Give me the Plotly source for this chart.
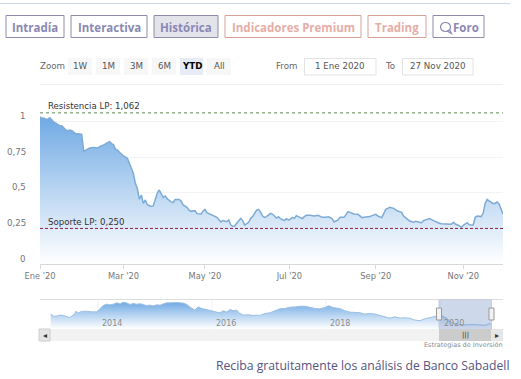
import plotly.graph_objects as go

W, H = 521, 379

sessions = [0,1,2,3,4,5,6,7,8,9,10,11,12,13,14,15,16,17,18,19,20,21,22,23,24,25,27,29,30,31,32,34,35,36,37,38,39,40,41,42,44,45,46,47,48,49,50,51,52,53,54,55,56,57,58,59,60,61,62,63,64,66,67,68,70,71,72,74,75,76,78,79,81,82,83,84,86,87,89,90,91,92,94,95,96,97,98,99,101,102,103,105,106,107,109,110,111,
 112,113,114,116,117,118,119,120,121,123,124,125,126,127,128,129,131,132,133,134,136,138,140,141,142,144,145,147,148,150,151,153,154,155,156,158,160,161,162,164,166,167,169,170,172,173,174,175,176,178,179,180,182,183,185,186,188,189,191,192,193,195,196,198,199,201,202,204,205,207,208,209,211,212,213,215,216,218,219,220,222,223,224,225,226,228,229,230,231,232,233]
prices = [1.035,1.024,1.026,1.017,1.019,1.028,1.012,.996,.989,.982,.970,.972,.958,.942,.937,.942,.937,.925,.914,.916,.914,.911,.792,.799,.808,.815,.818,.815,.825,.829,.836,.853,.860,.846,.839,.806,.801,.785,.771,.759,.743,.707,.677,.637,.567,.529,.455,.485,.426,.450,.417,.410,.405,.408,.461,.497,.520,.497,.468,.478,.459,.436,.431,.454,.454,.443,.415,.398,.379,.370,.375,.354,.351,.370,.384,.361,.351,.342,.328,.309,.295,.305,.297,.309,.274,.265,.267,.286,.321,.305,.274,.293,.321,.333,.379,.384,.365,
 .337,.328,.333,.356,.351,.337,.323,.333,.319,.305,.319,.309,.314,.328,.321,.340,.328,.319,.333,.342,.342,.337,.342,.337,.328,.328,.333,.319,.295,.309,.328,.328,.351,.368,.363,.351,.349,.335,.326,.330,.333,.340,.349,.337,.326,.356,.384,.391,.398,.391,.379,.372,.363,.337,.314,.302,.293,.300,.293,.290,.305,.314,.319,.305,.297,.286,.283,.283,.281,.279,.293,.281,.269,.258,.272,.290,.276,.274,.328,.337,.333,.356,.426,.454,.443,.426,.426,.436,.422,.384,.351]

x_tick_sessions = [0, 42, 83, 125.5, 169, 213]
x_tick_labels = ["Ene '20", "Mar '20", "May '20", "Jul '20", "Sep '20", "Nov '20"]
y_ticks = [0, 0.25, 0.5, 0.75, 1]
y_labels = ["0", "0,25", "0,5", "0,75", "1"]
resistance = 1.062
support = 0.250

nav_years = [2013.17,2013.22,2013.27,2013.33,2013.39,2013.45,2013.50,2013.54,2013.59,2013.61,2013.66,2013.71,2013.80,2013.89,2013.98,2014.04,2014.09,2014.15,2014.21,2014.27,2014.33,2014.39,2014.44,2014.50,2014.56,2014.62,2014.68,2014.74,2014.80,2014.85,2014.91,2014.97,2015.03,2015.09,2015.15,2015.20,2015.26,2015.32,2015.38,2015.44,2015.50,2015.56,2015.61,2015.70,2015.76,2015.82,2015.91,2015.99,2016.08,2016.14,2016.20,2016.26,2016.32,2016.37,2016.43,2016.49,2016.55,2016.64,2016.73,2016.78,2016.84,2016.93,2017.02,2017.11,2017.19,2017.28,2017.37,2017.46,2017.54,2017.63,2017.72,2017.81,2017.89,2017.98,2018.04,2018.13,2018.25,2018.33,2018.42,2018.51,2018.60,2018.68,2018.77,2018.86,2018.95,2019.04,2019.12,2019.21,2019.30,2019.39,2019.47,2019.56,2019.65,2019.74,2019.82,2019.91,2019.99,2020.05,2020.12,2020.18,2020.25,2020.40,2020.60,2020.80,2020.87,2020.89]
nav_values = [1.11,.96,.96,1.04,1.01,.91,.86,.96,1.11,1.31,1.21,1.31,1.33,1.28,1.28,1.53,1.75,1.85,1.80,1.85,1.95,1.88,2.00,1.95,1.83,1.90,1.85,1.88,1.80,1.75,1.78,1.73,1.80,1.78,1.88,1.95,1.95,1.98,1.98,1.95,1.93,1.83,1.65,1.41,1.65,1.53,1.46,1.36,1.26,1.21,1.36,1.26,1.46,1.36,1.41,1.16,1.04,1.06,1.01,1.04,1.01,1.16,1.21,1.36,1.51,1.53,1.63,1.65,1.70,1.70,1.60,1.53,1.51,1.60,1.73,1.60,1.51,1.36,1.26,1.26,1.21,1.11,1.16,1.11,1.01,.86,.81,.91,.81,.84,.79,.67,.62,.77,.86,.91,1.01,.96,.80,.55,.42,.30,.33,.28,.42,.35]
nav_tick_years = [2014, 2016, 2018, 2020]

tabs = [("Intradía",6,64,0,False),("Interactiva",71,147,0,False),("Histórica",154,218,0,True),
        ("Indicadores Premium",225,361,1,False),("Trading",368,426,1,False),("Foro",433,484,0,False)]
zoom_btns = [("1W",68,92),("1M",96,120),("3M",124,148),("6M",152,176),("YTD",180,203),("All",207,231)]

def px(x): return x / W
def py(y): return 1 - y / H

shapes, ann = [], []
def rect(x0, y0, x1, y1, line=None, fill=None, lw=1, layer="below"):
    shapes.append(dict(type="rect", xref="paper", yref="paper", x0=px(x0), x1=px(x1), y0=py(y0), y1=py(y1),
                       line=dict(color=line or "rgba(0,0,0,0)", width=lw if line else 0), fillcolor=fill or "rgba(0,0,0,0)", layer=layer))
def hline(x0, x1, y, color, lw=1):
    shapes.append(dict(type="line", xref="paper", yref="paper", x0=px(x0), x1=px(x1), y0=py(y), y1=py(y), line=dict(color=color, width=lw), layer="below"))
def text(x, y, s, size, color, family="DejaVu Sans", anchor="center", weight=None):
    f = dict(size=size, color=color, family=family)
    if weight: f["weight"] = weight
    ann.append(dict(xref="paper", yref="paper", x=px(x), y=py(y), text=s, showarrow=False, font=f,
                    xanchor=anchor, yanchor="middle", align=anchor, borderpad=0))

hline(0, 510, 3.5, "#c9d9de")
POP = "Open Sans"
for name, x0, x1, kind, active in tabs:
    edge = "#8f8cab" if kind == 0 else "#d9a097"
    rect(x0, 15.5, x1, 37.5, edge, "#e3e3ea" if active else "#ffffff")
    col = "#8b88b4" if kind == 0 else "#e6aea6"
    if name == "Foro":
        text(466, 27, name, 11.5, col, POP, weight=700)
        shapes.append(dict(type="circle", xref="paper", yref="paper", x0=px(440.5), x1=px(450.5), y0=py(31.5), y1=py(22.5),
                           line=dict(color=col, width=1.2), fillcolor="rgba(0,0,0,0)"))
        shapes.append(dict(type="path", xref="paper", yref="paper",
                           path=f"M {px(447)} {py(31)} L {px(451.5)} {py(33.5)} L {px(449.5)} {py(29.5)}",
                           line=dict(color=col, width=1.2)))
    else:
        text((x0 + x1) / 2, 27, name, 11.5, col, POP, weight=700)

text(52, 66.5, "Zoom", 8.7, "#666666")
for name, x0, x1 in zoom_btns:
    sel = name == "YTD"
    rect(x0, 58, x1, 75, None, "#e6ebf5" if sel else "#f7f7f7")
    text((x0 + x1) / 2, 66, name, 8.7, "#000000" if sel else "#555555", weight=700 if sel else None)
text(287, 66, "From", 8.7, "#666666")
rect(304.5, 58.5, 376, 75, "#e3e3e3", "#ffffff")
text(340, 66, "1 Ene 2020", 8.7, "#555555")
text(390, 66, "To", 8.7, "#666666")
rect(402.5, 58.5, 473, 75, "#e3e3e3", "#ffffff")
text(438, 66, "27 Nov 2020", 8.7, "#555555")
hline(40, 503, 84.5, "#eeeeee")

# y labels sit above their gridlines
for v, s in zip(y_ticks, y_labels):
    ann.append(dict(xref="paper", yref="y", x=px(28), y=v, yshift=5.5, text=s, showarrow=False,
                    font=dict(size=8.7, color="#777777", family="DejaVu Sans"), xanchor="right", yanchor="middle"))

shapes.append(dict(type="line", xref="x", yref="y", x0=0, x1=233, y0=resistance, y1=resistance,
                   line=dict(color="#5b8a4e", width=1, dash="dot"), layer="above"))
shapes.append(dict(type="line", xref="x", yref="y", x0=0, x1=233, y0=support, y1=support,
                   line=dict(color="#8c1f3f", width=1, dash="3px,2px"), layer="above"))
ann.append(dict(xref="paper", yref="y", x=px(45.5), y=resistance, yshift=6.5, text="Resistencia LP: 1,062", showarrow=False,
                font=dict(size=8.6, color="#333333", family="DejaVu Sans"), xanchor="left", yanchor="middle"))
ann.append(dict(xref="paper", yref="y", x=px(45.5), y=support, yshift=6, text="Soporte LP: 0,250", showarrow=False,
                font=dict(size=8.6, color="#333333", family="DejaVu Sans"), xanchor="left", yanchor="middle"))

# navigator furniture
hline(40, 503, 299.5, "#dddddd")
for yr in nav_tick_years:
    shapes.append(dict(type="line", xref="x2", yref="paper", x0=yr, x1=yr, y0=py(329), y1=py(299.5),
                       line=dict(color="#eef1f4", width=1), layer="below"))
    ann.append(dict(xref="x2", yref="paper", x=yr, xshift=2, y=py(323), text=str(yr), showarrow=False,
                    font=dict(size=8, color="#8d8d8d", family="DejaVu Sans"), xanchor="left", yanchor="middle"))
rect(39, 329, 503, 341, None, "#f2f2f2")
rect(39, 329, 50, 341, "#cccccc", "#e6e6e6")
rect(491, 329, 503, 341, None, "#e6e6e6")
rect(439, 329, 491, 341, None, "#cccccc")
rect(439, 299.5, 491.5, 329, None, "rgba(102,133,194,0.32)", layer="above")
for hx in (439, 491.5):
    shapes.append(dict(type="line", xref="paper", yref="paper", x0=px(hx), x1=px(hx), y0=py(329), y1=py(299.5),
                       line=dict(color="#c5cfe3", width=1), layer="above"))
    rect(hx - 2.5, 308, hx + 2.5, 320, "#999999", "#f2f2f2", layer="above")
text(45, 335, "◂", 8, "#333333")
text(497, 335, "▸", 8, "#333333")
text(465, 335, "|||", 7, "#333333")
text(503.5, 344.5, "Estrategias de Inversión", 6.5, "#8a8a8a", anchor="right")
text(510, 365, "Reciba gratuitamente los análisis de Banco Sabadell", 12.2, "#55557f", POP, anchor="right")

grad = dict(type="vertical", colorscale=[[0, "rgba(255,255,255,0.95)"], [1, "#6fa9e4"]])
fig = go.Figure()
fig.add_trace(go.Scatter(x=sessions, y=prices, mode="lines", fill="tozeroy", fillgradient=grad,
                         line=dict(color="#7dabd6", width=1.5), hoverinfo="skip", showlegend=False))
fig.add_trace(go.Scatter(x=nav_years, y=nav_values, mode="lines", fill="tozeroy", fillgradient=grad,
                         line=dict(color="#9cc0e2", width=1), hoverinfo="skip", showlegend=False, xaxis="x2", yaxis="y2"))

fig.update_layout(
    width=W, height=H, margin=dict(l=0, r=0, t=0, b=0, autoexpand=False), paper_bgcolor="#ffffff", plot_bgcolor="rgba(0,0,0,0)",
    shapes=shapes, annotations=ann, showlegend=False,
    xaxis=dict(domain=[px(40), px(503)], range=[0, 233], tickmode="array", tickvals=x_tick_sessions, ticktext=x_tick_labels,
               automargin=False, showgrid=False, zeroline=False, showline=True, linecolor="#d8d8d8", ticks="outside", ticklen=4, tickcolor="#d8d8d8",
               tickfont=dict(size=8.3, color="#777777", family="DejaVu Sans"), anchor="y"),
    yaxis=dict(domain=[py(264), py(100)], range=[0, 164 / 142.3], tickmode="array", tickvals=y_ticks, showticklabels=False,
               automargin=False, gridcolor="#f3f3f3", zeroline=False, showline=False, anchor="x"),
    xaxis2=dict(domain=[px(50), px(491)], range=[2013.158, 2020.895], visible=False, automargin=False, anchor="y2"),
    yaxis2=dict(domain=[py(329), py(299.5)], range=[0, 2.2], visible=False, automargin=False, anchor="x2"),
)
fig.write_html("out.html", config=dict(displayModeBar=False), post_script="document.body.style.margin='0';")
